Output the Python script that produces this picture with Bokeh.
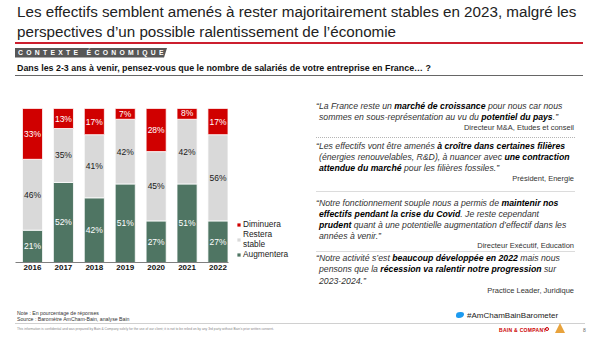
from bokeh.plotting import figure
from bokeh.models import Range1d, FixedTicker, Legend, LegendItem, ColumnDataSource, Div
from bokeh.layouts import column, row
from bokeh.embed import file_html
from bokeh.resources import INLINE
from bokeh.core.properties import value

# ---------------- data ----------------
years = ["2016", "2017", "2018", "2019", "2020", "2021", "2022"]
augmentera = [21, 52, 42, 51, 27, 51, 27]
restera = [46, 35, 41, 42, 45, 42, 56]
diminuera = [33, 13, 17, 7, 28, 8, 17]
series_labels = ["Augmentera", "Restera\nstable", "Diminuera"]

title_lines = [
    "Les effectifs semblent amenés à rester majoritairement stables en 2023, malgré les",
    "perspectives d\u2019un possible ralentissement de l\u2019économie",
]
section_label = "CONTEXTE ÉCONOMIQUE"
question = "Dans les 2-3 ans à venir, pensez-vous que le nombre de salariés de votre entreprise en France\u2026 ?"

quotes = [
    ["\u201cLa France reste un <b>marché de croissance</b> pour nous car nous",
     "sommes en sous-représentation au vu du <b>potentiel du pays</b>.\u201d"],
    ["\u201cLes effectifs vont être amenés <b>à croître dans certaines filières</b>",
     "(énergies renouvelables, R&amp;D), à nuancer avec <b>une contraction</b>",
     "<b>attendue du marché</b> pour les filières fossiles.\u201d"],
    ["\u201cNotre fonctionnement souple nous a permis de <b>maintenir nos</b>",
     "<b>effectifs pendant la crise du Covid</b>. Je reste cependant",
     "<b>prudent</b> quant à une potentielle augmentation d\u2019effectif dans les",
     "années à venir.\u201d"],
    ["\u201cNotre activité s\u2019est <b>beaucoup développée en 2022</b> mais nous",
     "pensons que la <b>récession va ralentir notre progression</b> sur",
     "2023-2024.\u201d"],
]
authors = ["Directeur M&amp;A, Etudes et conseil", "Président, Energie",
           "Directeur Exécutif, Education", "Practice Leader, Juridique"]

note_lines = ["Note : En pourcentage de réponses", "Source : Baromètre AmCham-Bain, analyse Bain"]
confidential = ("This information is confidential and was prepared by Bain &amp; Company solely for the use of our client; "
                "it is not to be relied on by any 3rd party without Bain\u2019s prior written consent.")
hashtag = "#AmChamBainBarometer"

FONT = "Liberation Sans"
GREEN = "#4f7563"
GRAY = "#d9d9d9"
RED = "#d00000"

# ---------------- header ----------------
header_html = f"""
<div style="position:relative;width:600px;height:95px;font-family:'{FONT}',Arial,sans-serif;">
  <div style="position:absolute;left:17px;top:2px;font-size:15.2px;line-height:20px;color:#222;white-space:nowrap;">
    {title_lines[0]}<br>{title_lines[1]}</div>
  <div style="position:absolute;left:15px;top:42px;width:568px;height:1.5px;background:#cc1f2f;"></div>
  <div style="position:absolute;left:15px;top:48px;width:152px;height:9.5px;background:#575757;
       clip-path:polygon(0 0,100% 0,calc(100% - 3px) 100%,0 100%);"></div>
  <div style="position:absolute;left:18px;top:48px;height:9.5px;font-size:6.8px;line-height:9.5px;font-weight:bold;
       color:#fff;letter-spacing:3.3px;white-space:nowrap;">{section_label}</div>
  <div style="position:absolute;left:17px;top:63px;font-size:8.9px;line-height:10px;font-weight:bold;color:#111;white-space:nowrap;">{question}</div>
  <div style="position:absolute;left:15px;top:75px;width:568px;height:1px;background:#666;"></div>
</div>
"""
header = Div(text=header_html, width=600, height=95, margin=0)

# ---------------- chart ----------------
xs = list(range(len(years)))
src = ColumnDataSource(dict(x=xs, aug=augmentera, stable=restera, dim=diminuera))

p = figure(width=300, height=205, output_backend="svg", toolbar_location=None,
           x_range=Range1d(-0.55, 8.67), y_range=Range1d(0, 100),
           min_border_left=15, min_border_right=0, min_border_top=13, min_border_bottom=38)
p.outline_line_color = None
p.xgrid.grid_line_color = None
p.ygrid.grid_line_color = None
p.yaxis.visible = False
p.background_fill_color = None
p.border_fill_color = None

rs = p.vbar_stack(["aug", "stable", "dim"], x="x", width=0.65, source=src,
                  fill_color=[GREEN, GRAY, RED], line_color="white", line_width=0.8)

lx, ly, lt, lc = [], [], [], []
for i in xs:
    base = 0
    for vals, col in ((augmentera, "#ffffff"), (restera, "#1a1a1a"), (diminuera, "#ffffff")):
        v = vals[i]
        lx.append(i)
        ly.append(base + v / 2)
        lt.append(f"{v}%")
        lc.append(col)
        base += v
lab_src = ColumnDataSource(dict(x=lx, y=ly, t=lt, c=lc))
p.text(x="x", y="y", text="t", text_color="c", source=lab_src, text_font=value(FONT),
       text_font_size="8.5px", text_align="center", text_baseline="middle")

p.xaxis.ticker = FixedTicker(ticks=xs)
p.xaxis.major_label_overrides = {i: y for i, y in zip(xs, years)}
p.xaxis.bounds = (-0.55, len(years) - 1 + 0.35)
p.xaxis.major_tick_line_color = None
p.xaxis.minor_tick_line_color = None
p.xaxis.major_tick_out = 0
p.xaxis.major_tick_in = 0
p.xaxis.minor_tick_out = 0
p.xaxis.axis_line_color = "#7f7f7f"
p.xaxis.axis_line_width = 1
p.xaxis.major_label_text_font = FONT
p.xaxis.major_label_text_font_size = "8px"
p.xaxis.major_label_text_font_style = "bold"
p.xaxis.major_label_text_color = "#111111"
p.xaxis.major_label_standoff = 2

legend = Legend(items=[LegendItem(label=series_labels[2], renderers=[rs[2]]),
                       LegendItem(label=series_labels[1], renderers=[rs[1]]),
                       LegendItem(label=series_labels[0], renderers=[rs[0]])],
                location=(221, 3), background_fill_alpha=0, border_line_color=None,
                padding=0, margin=0, spacing=0, glyph_width=5, glyph_height=5,
                label_height=8, label_standoff=2, label_text_font=FONT,
                label_text_font_size="8.3px", label_text_line_height=0.95,
                label_text_color="#1a1a1a")
p.add_layout(legend)

# ---------------- quotes ----------------
first_line = [106, 146, 203, 258.5]
line_gap = 11.3
author_y = [128, 178.5, 246, 291]
sep_y = [136.5, 191, 251]
sep_style = ["1px dotted #b5b5b5", "1.5px solid #dcdcdc", "1.5px solid #dcdcdc"]
TOP = 95
parts = [f'<div style="position:relative;width:300px;height:205px;font-family:\'{FONT}\',Arial,sans-serif;color:#333;">']
for qi, q in enumerate(quotes):
    for li, txt in enumerate(q):
        top = first_line[qi] + li * line_gap - TOP - 5.5
        left = 16 if li == 0 else 19
        txt = txt.replace("<b>", '<b style="color:#000;">')
        parts.append(f'<div style="position:absolute;left:{left}px;top:{top}px;font-size:8.7px;line-height:11px;'
                     f'font-style:italic;white-space:nowrap;">{txt}</div>')
    parts.append(f'<div style="position:absolute;right:26px;top:{author_y[qi] - TOP - 5}px;font-size:7.5px;'
                 f'line-height:10px;white-space:nowrap;color:#333;">{authors[qi]}</div>')
for s, st in zip(sep_y, sep_style):
    parts.append(f'<div style="position:absolute;left:16px;top:{s - TOP}px;width:259px;height:0;border-top:{st};"></div>')
parts.append("</div>")
quotes_div = Div(text="".join(parts), width=300, height=205, margin=0)

# ---------------- footer ----------------
footer_html = f"""
<div style="position:relative;width:600px;height:37px;font-family:'{FONT}',Arial,sans-serif;">
  <div style="position:absolute;left:17px;top:10px;font-size:5.2px;line-height:6px;color:#333;white-space:nowrap;">
    {note_lines[0]}<br>{note_lines[1]}</div>
  <div style="position:absolute;left:456px;top:12px;width:8px;height:6px;background:#1d9bf0;border-radius:60% 40% 70% 30%;"></div>
  <div style="position:absolute;left:467px;top:11px;font-size:8px;line-height:10px;color:#222;white-space:nowrap;">{hashtag}</div>
  <div style="position:absolute;left:15px;top:23px;width:570px;height:1px;background:#d0d0d0;"></div>
  <div style="position:absolute;left:17px;top:27px;font-size:3.3px;line-height:4px;color:#888;white-space:nowrap;">{confidential}</div>
  <div style="position:absolute;left:499px;top:27px;font-size:5px;line-height:6px;font-weight:bold;color:#cc0000;
       letter-spacing:0.3px;white-space:nowrap;">BAIN &amp; COMPANY</div>
  <div style="position:absolute;left:545px;top:27px;width:4px;height:4px;border:1px solid #cc0000;border-radius:50%;"></div>
  <div style="position:absolute;left:555px;top:23px;width:0;height:0;border-left:5px solid transparent;
       border-right:5px solid transparent;border-bottom:10px solid #e8a33c;"></div>
  <div style="position:absolute;left:583px;top:27px;font-size:5px;line-height:6px;color:#666;">8</div>
</div>
"""
footer = Div(text=footer_html, width=600, height=37, margin=0)

layout = column(header, row(p, quotes_div, spacing=0), footer, spacing=0)
open("out.html", "w").write(file_html(layout, INLINE))
